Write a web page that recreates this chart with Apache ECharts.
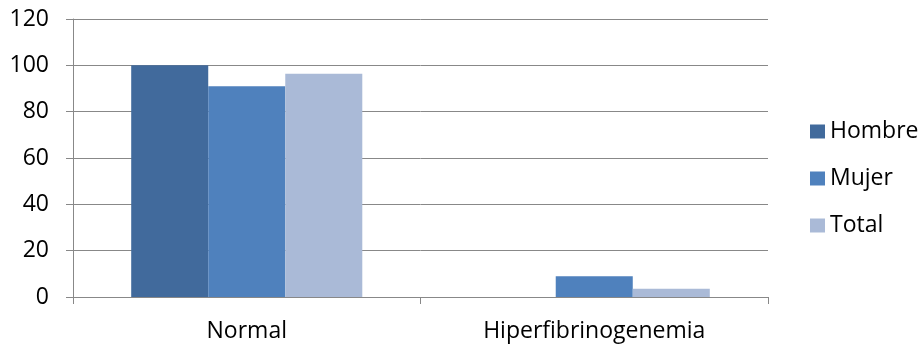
<!DOCTYPE html>
<html>
<head>
<meta charset="utf-8">
<script src="https://cdn.jsdelivr.net/npm/echarts@6/dist/echarts.min.js"></script>
<style>
  html, body { margin: 0; padding: 0; background: #fff; }
  #chart { width: 922px; height: 346px; }
</style>
</head>
<body>
<div id="chart"></div>
<script>
// Categories and percentages per group
const categories = ['Normal', 'Hiperfibrinogenemia'];
const hombre = [100, 0];
const mujer = [91, 9];
const total = [96.4, 3.6];
const yTicks = { min: 0, max: 120, interval: 20 };

const gridColor = '#888888';
const fontFamily = '"Open Sans", "Noto Sans", sans-serif';
const fontSize = 23;

const chart = echarts.init(document.getElementById('chart'), null, { renderer: 'canvas' });

function barSeries(name, data, color) {
  return {
    name: name,
    type: 'bar',
    data: data,
    barGap: '0%',
    barCategoryGap: '33.5%',
    itemStyle: { color: color },
    emphasis: { disabled: true }
  };
}

chart.setOption({
  animation: false,
  grid: { left: 73, right: 154, top: 19, bottom: 49, containLabel: false },
  legend: {
    orient: 'vertical',
    left: 805,
    top: 115,
    itemWidth: 15,
    itemHeight: 14,
    itemGap: 24,
    icon: 'rect',
    textStyle: { fontSize: fontSize, color: '#000', fontFamily: fontFamily, lineHeight: 23 },
    data: ['Hombre', 'Mujer', 'Total']
  },
  xAxis: {
    type: 'category',
    data: categories,
    axisLine: { lineStyle: { color: gridColor, width: 1 } },
    axisTick: { show: true, length: 7, lineStyle: { color: gridColor } },
    axisLabel: { fontSize: fontSize, color: '#000', fontFamily: fontFamily, margin: 23 }
  },
  yAxis: {
    type: 'value',
    min: yTicks.min,
    max: yTicks.max,
    interval: yTicks.interval,
    axisLine: { show: true, lineStyle: { color: gridColor, width: 1 } },
    axisTick: { show: true, length: 7, lineStyle: { color: gridColor } },
    splitLine: { show: true, lineStyle: { color: gridColor, width: 1 } },
    axisLabel: { fontSize: fontSize, color: '#000', fontFamily: fontFamily, margin: 24 }
  },
  series: [
    barSeries('Hombre', hombre, '#416A9C'),
    barSeries('Mujer', mujer, '#4F81BD'),
    barSeries('Total', total, '#AABAD7')
  ]
});
</script>
</body>
</html>
